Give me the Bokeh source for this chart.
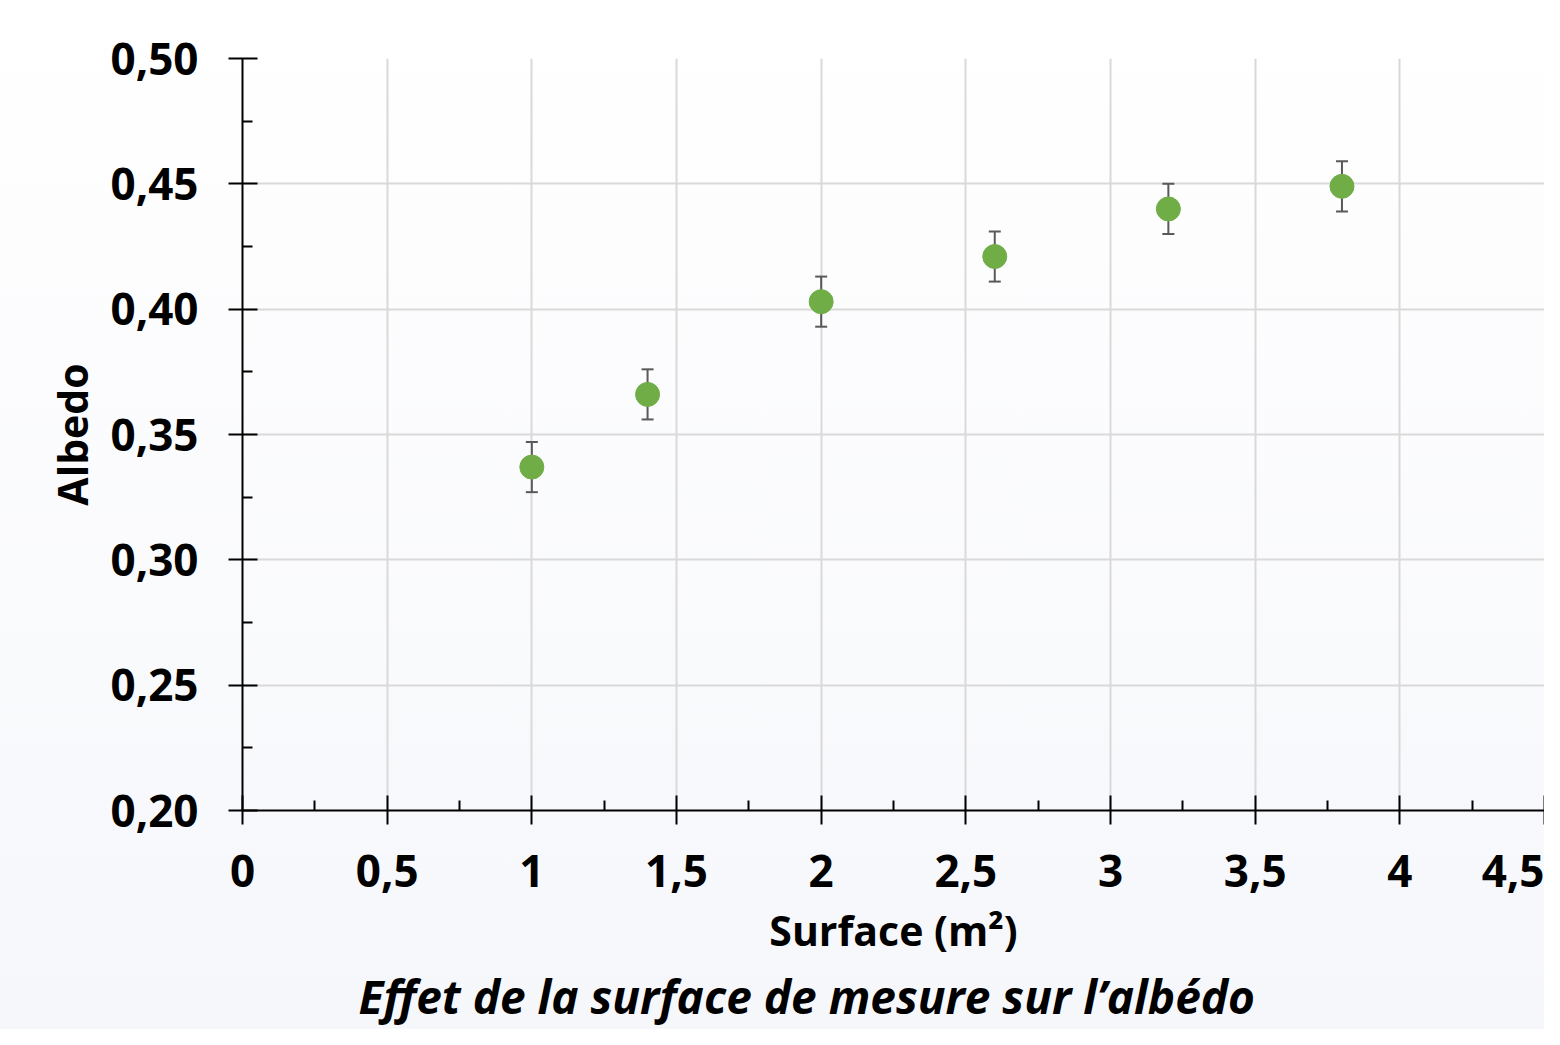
from bokeh.plotting import figure
from bokeh.models import FixedTicker, Whisker, ColumnDataSource, Title, TeeHead
from bokeh.embed import file_html
from bokeh.resources import INLINE

# ---- data ----
surface = [1.0, 1.4, 2.0, 2.6, 3.2, 3.8]
albedo = [0.337, 0.366, 0.403, 0.421, 0.440, 0.449]
error = [0.01, 0.01, 0.01, 0.01, 0.01, 0.01]

x_ticks = [0, 0.5, 1, 1.5, 2, 2.5, 3, 3.5, 4, 4.5]
x_labels = ["0", "0,5", "1", "1,5", "2", "2,5", "3", "3,5", "4", "4,5"]
x_minor = [0.25, 0.75, 1.25, 1.75, 2.25, 2.75, 3.25, 3.75, 4.25]
y_ticks = [0.20, 0.25, 0.30, 0.35, 0.40, 0.45, 0.50]
y_labels = ["0,20", "0,25", "0,30", "0,35", "0,40", "0,45", "0,50"]
y_minor = [0.225, 0.275, 0.325, 0.375, 0.425, 0.475]

x_title = "Surface (m²)"
y_title = "Albedo"
chart_title = "Effet de la surface de mesure sur l’albédo"

FONT = "Open Sans"

src = ColumnDataSource(dict(
    x=surface, y=albedo,
    upper=[a + e for a, e in zip(albedo, error)],
    lower=[a - e for a, e in zip(albedo, error)],
))

p = figure(width=1544, height=1029, x_range=(0, 4.5), y_range=(0.2, 0.5),
           output_backend="svg", toolbar_location=None,
           min_border_left=242, min_border_right=0, min_border_top=58,
           min_border_bottom=219)

p.styles = {"background": "linear-gradient(#ffffff, #f6f7fb)"}
p.border_fill_color = None
p.background_fill_color = None
p.outline_line_color = None

p.xaxis.ticker = FixedTicker(ticks=x_ticks, minor_ticks=x_minor)
p.yaxis.ticker = FixedTicker(ticks=y_ticks, minor_ticks=y_minor)
p.xaxis.major_label_overrides = {t: l for t, l in zip(x_ticks, x_labels)}
p.yaxis.major_label_overrides = {t: l for t, l in zip(y_ticks, y_labels)}

for ax in (p.xaxis, p.yaxis):
    ax.axis_line_color = "black"
    ax.axis_line_width = 2
    ax.major_tick_line_color = "black"
    ax.major_tick_line_width = 2
    ax.minor_tick_line_color = "black"
    ax.minor_tick_line_width = 2
    ax.major_tick_in = 15
    ax.major_tick_out = 14
    ax.minor_tick_in = 10
    ax.minor_tick_out = 0
    ax.major_label_text_font = FONT
    ax.major_label_text_font_style = "bold"
    ax.major_label_text_font_size = "44px"
    ax.major_label_text_color = "black"
    ax.axis_label_text_font = FONT
    ax.axis_label_text_font_style = "bold"
    ax.axis_label_text_font_size = "41px"
    ax.axis_label_text_color = "black"

p.xaxis.axis_label = x_title
p.yaxis.axis_label = y_title
p.xaxis.major_label_standoff = 30
p.yaxis.major_label_standoff = 30
p.xaxis.axis_label_standoff = 12
p.yaxis.axis_label_standoff = 7

p.grid.grid_line_color = "#d9d9d9"
p.grid.grid_line_width = 2
p.xgrid.ticker = FixedTicker(ticks=x_ticks)
p.ygrid.ticker = FixedTicker(ticks=y_ticks)

whisk = Whisker(source=src, base="x", upper="upper", lower="lower",
                line_color="#595959", line_width=2,
                upper_head=TeeHead(size=12, line_color="#595959", line_width=2),
                lower_head=TeeHead(size=12, line_color="#595959", line_width=2))
p.add_layout(whisk)

p.scatter("x", "y", source=src, size=24, fill_color="#70ad47",
          line_color="#70ad47", line_width=1)

t = Title(text=chart_title, align="left", text_font=FONT,
          text_font_style="bold italic", text_font_size="46px",
          text_color="black", offset=116, standoff=4)
p.add_layout(t, "below")

open("out.html", "w").write(file_html(p, INLINE))
